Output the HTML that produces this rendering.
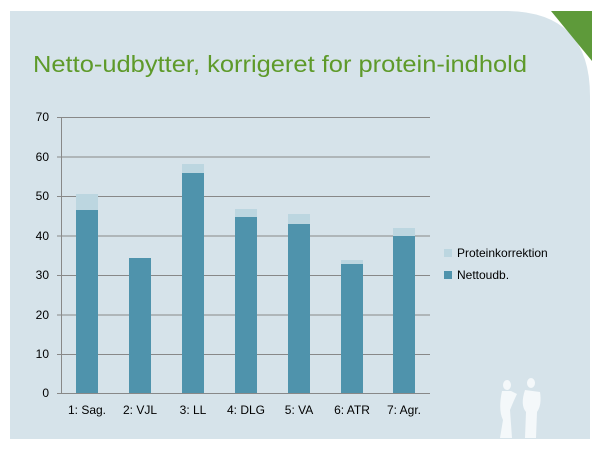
<!DOCTYPE html>
<html><head><style>
body{margin:0;background:#fff;width:600px;height:450px;overflow:hidden}
</style></head><body>
<svg width="600" height="450" xmlns="http://www.w3.org/2000/svg" font-family="Liberation Sans, sans-serif">
<path d="M10 11 H505 Q590 11 590 96 V439 H10 Z" fill="#d6e3ea"/>
<path d="M551 11 H592 V61 Z" fill="#5e9a3a"/>
<text x="33" y="72" font-size="23" fill="#5e9a2a" textLength="494" lengthAdjust="spacingAndGlyphs">Netto-udbytter, korrigeret for protein-indhold</text>
<g stroke="#888" stroke-width="1">
<line x1="57" y1="117.5" x2="430" y2="117.5"/>
<line x1="57" y1="157" x2="430" y2="157"/>
<line x1="57" y1="196.5" x2="430" y2="196.5"/>
<line x1="57" y1="236" x2="430" y2="236"/>
<line x1="57" y1="275.5" x2="430" y2="275.5"/>
<line x1="57" y1="315" x2="430" y2="315"/>
<line x1="57" y1="354.5" x2="430" y2="354.5"/>
<line x1="57" y1="393.5" x2="430" y2="393.5"/>
<line x1="61.5" y1="117" x2="61.5" y2="393"/>
</g>
<g font-size="12" fill="#000" text-anchor="end">
<text x="49" y="121">70</text><text x="49" y="161">60</text><text x="49" y="200">50</text><text x="49" y="240">40</text><text x="49" y="279">30</text><text x="49" y="319">20</text><text x="49" y="358">10</text><text x="49" y="397">0</text>
</g>
<g>
<rect x="76" y="194" width="22" height="16" fill="#bcd6e0"/><rect x="76" y="210" width="22" height="183" fill="#4f93ac"/>
<rect x="129" y="258" width="22" height="135" fill="#4f93ac"/>
<rect x="182" y="164" width="22" height="9" fill="#bcd6e0"/><rect x="182" y="173" width="22" height="220" fill="#4f93ac"/>
<rect x="235" y="209" width="22" height="8" fill="#bcd6e0"/><rect x="235" y="217" width="22" height="176" fill="#4f93ac"/>
<rect x="288" y="214" width="22" height="10" fill="#bcd6e0"/><rect x="288" y="224" width="22" height="169" fill="#4f93ac"/>
<rect x="341" y="260" width="22" height="4" fill="#bcd6e0"/><rect x="341" y="264" width="22" height="129" fill="#4f93ac"/>
<rect x="393" y="228" width="22" height="8" fill="#bcd6e0"/><rect x="393" y="236" width="22" height="157" fill="#4f93ac"/>
</g>
<g font-size="12" fill="#000" text-anchor="middle">
<text x="87" y="414">1: Sag.</text><text x="140" y="414">2: VJL</text><text x="193" y="414">3: LL</text><text x="246" y="414">4: DLG</text><text x="299" y="414">5: VA</text><text x="352" y="414">6: ATR</text><text x="404" y="414">7: Agr.</text>
</g>
<rect x="444" y="249" width="8" height="8" fill="#bcd6e0"/>
<rect x="444" y="271" width="8" height="8" fill="#4f93ac"/>
<text x="457" y="257" font-size="12">Proteinkorrektion</text>
<text x="457" y="279" font-size="12">Nettoudb.</text>
<g fill="#f4f8fa">
<ellipse cx="507" cy="385" rx="4" ry="5"/><path d="M502 391 Q498 410 503 420 L500 438 H512 L510 410 Q514 400 517 394 L511 391 Z"/>
<ellipse cx="531" cy="383" rx="4" ry="5"/><path d="M525 390 Q520 405 526 412 L525 438 H536 L537 412 Q542 405 540 392 Z"/>
</g>
</svg>
</body></html>
